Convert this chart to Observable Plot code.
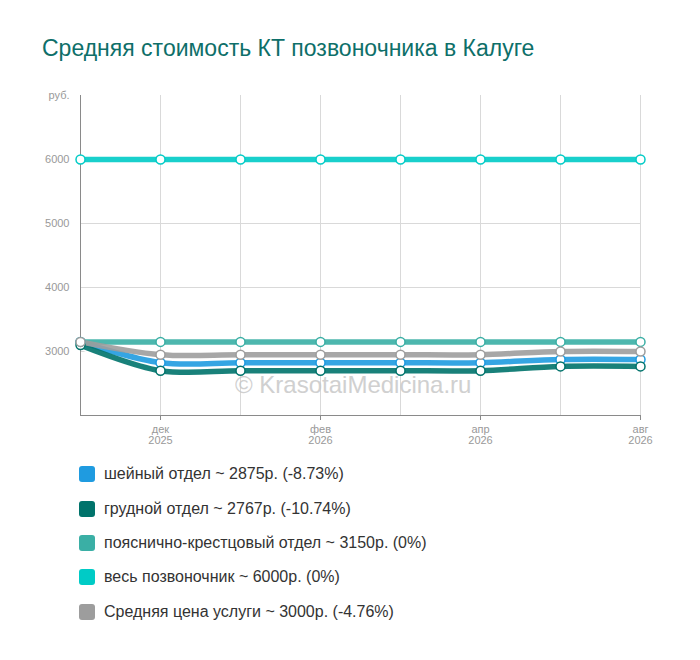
<!DOCTYPE html>
<html>
<head>
<meta charset="utf-8">
<script src="https://cdn.jsdelivr.net/npm/d3@7"></script>
<script src="https://cdn.jsdelivr.net/npm/@observablehq/plot@0.6"></script>
<style>
  body { margin: 0; background: #fff; font-family: Arial, "Liberation Sans", sans-serif; }
  #wrap { position: relative; width: 700px; height: 660px; }
  #title { position: absolute; left: 42px; top: 35px; font-size: 23px; color: #0e6f69; white-space: nowrap; }
  #chart { position: absolute; left: 0; top: 80px; }
  #wm { position: absolute; left: 235px; top: 371px; font-size: 24px; color: #c8c8c8; opacity: 0.85; white-space: nowrap; }
  #legend { position: absolute; left: 79px; top: 457px; }
  .item { display: flex; align-items: center; height: 34.4px; font-size: 16px; color: #333; }
  .sw { width: 16px; height: 16px; border-radius: 3px; margin-right: 9px; }
</style>
</head>
<body>
<div id="wrap">
  <div id="title">Средняя стоимость КТ позвоночника в Калуге</div>
  <div id="chart"></div>
  <div id="wm">© KrasotaiMedicina.ru</div>
  <div id="legend"></div>
</div>
<script>
// ---- data ----
const pointIndex = [0, 1, 2, 3, 4, 5, 6, 7];
const tickIndex = [1, 3, 5, 7];
const tickLabels = ["дек\n2025", "фев\n2026", "апр\n2026", "авг\n2026"];
const yTicks = [3000, 4000, 5000, 6000, 7000];
const yTopLabel = "руб.";

const seriesNames = ["шейный отдел", "грудной отдел", "пояснично-крестцовый отдел", "весь позвоночник", "Средняя цена услуги"];
const seriesColors = ["#1f9be0", "#00736b", "#3aafa5", "#00cbc6", "#9d9d9d"];
const legendLabels = [
  "шейный отдел ~ 2875р. (-8.73%)",
  "грудной отдел ~ 2767р. (-10.74%)",
  "пояснично-крестцовый отдел ~ 3150р. (0%)",
  "весь позвоночник ~ 6000р. (0%)",
  "Средняя цена услуги ~ 3000р. (-4.76%)"
];
const cervical = [3150, 2825, 2825, 2825, 2825, 2825, 2875, 2875];
const thoracic = [3100, 2700, 2700, 2700, 2700, 2700, 2767, 2767];
const lumbar   = [3150, 3150, 3150, 3150, 3150, 3150, 3150, 3150];
const whole    = [6000, 6000, 6000, 6000, 6000, 6000, 6000, 6000];
const average  = [3150, 2950, 2950, 2950, 2950, 2950, 3000, 3000];

const seriesValues = [cervical, thoracic, lumbar, whole, average];
const rows = seriesValues.flatMap((vals, s) =>
  vals.map((v, i) => ({ series: seriesNames[s], i: pointIndex[i], v })));

const color = { domain: seriesNames, range: seriesColors };

const plot = Plot.plot({
  width: 700,
  height: 380,
  marginTop: 15,
  marginBottom: 45,
  marginLeft: 80,
  marginRight: 60,
  style: { fontFamily: "Arial, 'Liberation Sans', sans-serif", fontSize: "11px", color: "#999", background: "transparent" },
  x: { domain: [0, 7] },
  y: { domain: [2000, 7000] },
  color,
  marks: [
    Plot.ruleX(pointIndex, { x: d => d, y1: 2000, y2: 7000, stroke: "#d9d9d9" }),
    Plot.ruleY([3000, 4000, 5000, 6000], { y: d => d, stroke: "#d9d9d9" }),
    Plot.ruleX([0], { x: d => d, y1: 2000, y2: 7000, stroke: "#8a8a8a" }),
    Plot.ruleY([2000], { stroke: "#8a8a8a" }),
    Plot.axisY({ ticks: yTicks, tickFormat: d => d === 7000 ? yTopLabel : String(d), tickSize: 0, tickPadding: 11, label: null }),
    Plot.axisX({ ticks: tickIndex, tickFormat: d => tickLabels[tickIndex.indexOf(d)], tickSize: 5, tickPadding: 4, stroke: "#8a8a8a", label: null, lineHeight: 1.05 }),
    Plot.line(rows, { x: "i", y: "v", z: "series", stroke: "#fff", strokeWidth: 9, curve: "catmull-rom" }),
    Plot.line(rows, { x: "i", y: "v", stroke: "series", strokeWidth: 5.5, curve: "catmull-rom", strokeOpacity: 0.9 }),
    Plot.dot(rows, { x: "i", y: "v", r: 4.5, fill: "#fff", stroke: "series", strokeWidth: 1.5 })
  ]
});
document.getElementById("chart").appendChild(plot);

const legend = document.getElementById("legend");
legendLabels.forEach((t, k) => {
  const it = document.createElement("div");
  it.className = "item";
  it.innerHTML = `<div class="sw" style="background:${seriesColors[k]}"></div><span>${t}</span>`;
  legend.appendChild(it);
});
</script>
</body>
</html>
